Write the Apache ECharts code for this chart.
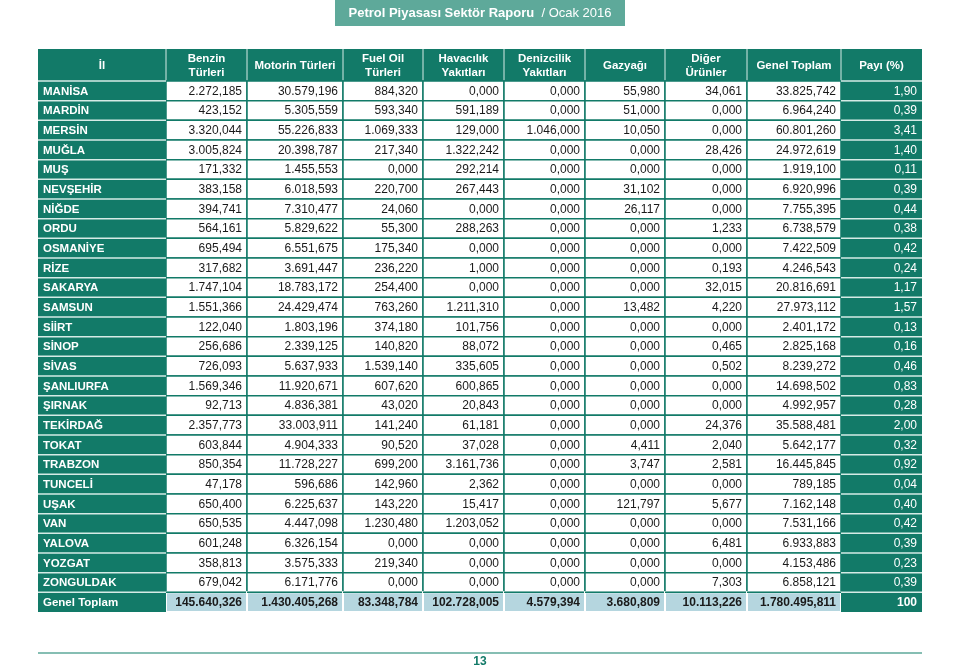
<!DOCTYPE html>
<html>
<head>
<meta charset="utf-8">
<script src="https://cdn.jsdelivr.net/npm/echarts@6/dist/echarts.min.js"></script>
<style>
  html, body { margin: 0; padding: 0; background: #fff; }
  #main { width: 960px; height: 666px; }
</style>
</head>
<body>
<div id="main"></div>
<script>
// tablo verileri (bin litre / ton)
var provinces = ["MANİSA", "MARDİN", "MERSİN", "MUĞLA", "MUŞ", "NEVŞEHİR", "NİĞDE", "ORDU", "OSMANİYE", "RİZE",
  "SAKARYA", "SAMSUN", "SİİRT", "SİNOP", "SİVAS", "ŞANLIURFA", "ŞIRNAK", "TEKİRDAĞ", "TOKAT", "TRABZON",
  "TUNCELİ", "UŞAK", "VAN", "YALOVA", "YOZGAT", "ZONGULDAK"];
var headers = ["İl", "Benzin\nTürleri", "Motorin Türleri", "Fuel Oil\nTürleri", "Havacılık\nYakıtları",
  "Denizcilik\nYakıtları", "Gazyağı", "Diğer\nÜrünler", "Genel Toplam", "Payı (%)"];
var benzin = [2272.185, 423.152, 3320.044, 3005.824, 171.332, 383.158, 394.741, 564.161, 695.494, 317.682,
  1747.104, 1551.366, 122.040, 256.686, 726.093, 1569.346, 92.713, 2357.773, 603.844, 850.354,
  47.178, 650.400, 650.535, 601.248, 358.813, 679.042];
var motorin = [30579.196, 5305.559, 55226.833, 20398.787, 1455.553, 6018.593, 7310.477, 5829.622, 6551.675, 3691.447,
  18783.172, 24429.474, 1803.196, 2339.125, 5637.933, 11920.671, 4836.381, 33003.911, 4904.333, 11728.227,
  596.686, 6225.637, 4447.098, 6326.154, 3575.333, 6171.776];
var fuelOil = [884.320, 593.340, 1069.333, 217.340, 0, 220.700, 24.060, 55.300, 175.340, 236.220,
  254.400, 763.260, 374.180, 140.820, 1539.140, 607.620, 43.020, 141.240, 90.520, 699.200,
  142.960, 143.220, 1230.480, 0, 219.340, 0];
var havacilik = [0, 591.189, 129.000, 1322.242, 292.214, 267.443, 0, 288.263, 0, 1.000,
  0, 1211.310, 101.756, 88.072, 335.605, 600.865, 20.843, 61.181, 37.028, 3161.736,
  2.362, 15.417, 1203.052, 0, 0, 0];
var denizcilik = [0, 0, 1046.000, 0, 0, 0, 0, 0, 0, 0,
  0, 0, 0, 0, 0, 0, 0, 0, 0, 0,
  0, 0, 0, 0, 0, 0];
var gazyagi = [55.980, 51.000, 10.050, 0, 0, 31.102, 26.117, 0, 0, 0,
  0, 13.482, 0, 0, 0, 0, 0, 0, 4.411, 3.747,
  0, 121.797, 0, 0, 0, 0];
var diger = [34.061, 0, 0, 28.426, 0, 0, 0, 1.233, 0, 0.193,
  32.015, 4.220, 0, 0.465, 0.502, 0, 0, 24.376, 2.040, 2.581,
  0, 5.677, 0, 6.481, 0, 7.303];
var genelToplam = [33825.742, 6964.240, 60801.260, 24972.619, 1919.100, 6920.996, 7755.395, 6738.579, 7422.509, 4246.543,
  20816.691, 27973.112, 2401.172, 2825.168, 8239.272, 14698.502, 4992.957, 35588.481, 5642.177, 16445.845,
  789.185, 7162.148, 7531.166, 6933.883, 4153.486, 6858.121];
var payi = [1.90, 0.39, 3.41, 1.40, 0.11, 0.39, 0.44, 0.38, 0.42, 0.24,
  1.17, 1.57, 0.13, 0.16, 0.46, 0.83, 0.28, 2.00, 0.32, 0.92,
  0.04, 0.40, 0.42, 0.39, 0.23, 0.39];
var totalLabel = "Genel Toplam";
var totals = [145640.326, 1430405.268, 83348.784, 102728.005, 4579.394, 3680.809, 10113.226, 1780495.811];
var totalPayi = 100;

// sütun kenarları (piksel genişliği cinsinden)
var colEdges = [0, 128, 209, 305, 385, 466, 547, 627, 709, 803, 884];

var TEAL = "#127a68";
var LIGHT_TEAL = "#5ea99a";
var TOTAL_BG = "#b5d6df";
var FONT = '"Liberation Sans", Arial, Helvetica, sans-serif';

var numCols = [benzin, motorin, fuelOil, havacilik, denizcilik, gazyagi, diger, genelToplam];
var rowNames = provinces.concat([totalLabel]);
var lastRow = rowNames.length - 1;

// türkçe sayı biçimi: 1.234,567
function fmt(v, d) {
  var s = v.toFixed(d).split(".");
  var intPart = s[0].replace(/\B(?=(\d{3})+(?!\d))/g, ".");
  return s.length > 1 ? intPart + "," + s[1] : intPart;
}

function cellText(c, r) {
  if (c === 0) return rowNames[r];
  if (c === 9) return r === lastRow ? String(totalPayi) : fmt(payi[r], 2);
  if (r === lastRow) return fmt(totals[c - 1], 3);
  return fmt(numCols[c - 1][r], 3);
}

var bodyData = [];
for (var r = 0; r < rowNames.length; r++) {
  for (var c = 0; c < headers.length; c++) {
    bodyData.push([c, r]);
  }
}
// önce beyaz hücreler, sonra teal sütunlar çizilsin
bodyData.sort(function (a, b) {
  var ta = (a[0] === 0 || a[0] === 9) ? 1 : 0;
  var tb = (b[0] === 0 || b[0] === 9) ? 1 : 0;
  return ta - tb;
});

var headerData = headers.map(function (h, i) { return [i, 0]; });

function cellBox(api) {
  var c = api.value(0), r = api.value(1);
  var x0 = api.coord([colEdges[c], r])[0];
  var x1 = api.coord([colEdges[c + 1], r])[0];
  var yc = api.coord([0, r])[1];
  var h = api.size([0, 1])[1];
  return { c: c, r: r, x0: x0, x1: x1, y0: yc - h / 2, y1: yc + h / 2, yc: yc, h: h };
}

function renderBody(params, api) {
  var b = cellBox(api);
  var isTotal = b.r === lastRow;
  var text = cellText(b.c, b.r);
  var children = [];
  if (b.c === 0 || b.c === 9) {
    children.push({ type: "rect", shape: { x: b.x0, y: b.y0, width: b.x1 - b.x0, height: b.h }, style: { fill: TEAL } });
    children.push({ type: "line", shape: { x1: b.x0, y1: b.y0, x2: b.x1, y2: b.y0 },
      style: { stroke: "#d5ebe6", lineWidth: 1.5 } });
    children.push({ type: "text", style: {
      text: text, x: b.c === 0 ? b.x0 + 5 : b.x1 - 5, y: b.yc + 0.5,
      align: b.c === 0 ? "left" : "right", verticalAlign: "middle",
      fill: "#fff", fontFamily: FONT, fontSize: b.c === 0 ? 11.5 : 12,
      fontWeight: (b.c === 0 || isTotal) ? "bold" : "normal" } });
  } else {
    children.push({ type: "rect", shape: { x: b.x0, y: b.y0, width: b.x1 - b.x0, height: b.h },
      style: { fill: isTotal ? TOTAL_BG : "#fff", stroke: isTotal ? "#fff" : TEAL, lineWidth: isTotal ? 2 : 1.5 } });
    if (isTotal) {
      children.push({ type: "line", shape: { x1: b.x0, y1: b.y0, x2: b.x1, y2: b.y0 },
        style: { stroke: TEAL, lineWidth: 1.5 } });
    }
    children.push({ type: "text", style: {
      text: text, x: b.x1 - 5, y: b.yc + 0.5, align: "right", verticalAlign: "middle",
      fill: "#1a1a1a", fontFamily: FONT, fontSize: 12, fontWeight: isTotal ? "bold" : "normal" } });
  }
  return { type: "group", children: children };
}

function renderHeader(params, api) {
  var b = cellBox(api);
  var children = [
    { type: "rect", shape: { x: b.x0, y: b.y0, width: b.x1 - b.x0, height: b.h }, style: { fill: TEAL } },
    { type: "text", style: {
      text: headers[b.c], x: (b.x0 + b.x1) / 2, y: b.yc + 0.5, align: "center", verticalAlign: "middle",
      fill: "#fff", fontFamily: FONT, fontSize: 11.5, fontWeight: "bold", lineHeight: 14 } }
  ];
  if (b.c > 0) {
    children.push({ type: "line", shape: { x1: b.x0, y1: b.y0, x2: b.x0, y2: b.y1 },
      style: { stroke: "#d5ebe6", lineWidth: 1 } });
  }
  return { type: "group", children: children };
}

var myChart = echarts.init(document.getElementById("main"), null, { renderer: "canvas" });
myChart.setOption({
  animation: false,
  backgroundColor: "#fff",
  grid: [
    { left: 38, width: 884, top: 49, height: 32 },
    { left: 38, width: 884, top: 81, height: 531 }
  ],
  xAxis: [
    { type: "value", gridIndex: 0, min: 0, max: 884, show: false },
    { type: "value", gridIndex: 1, min: 0, max: 884, show: false }
  ],
  yAxis: [
    { type: "category", gridIndex: 0, data: ["header"], show: false },
    { type: "category", gridIndex: 1, data: rowNames, inverse: true, show: false }
  ],
  graphic: [
    { type: "rect", left: 335, top: 0, shape: { width: 290, height: 26 }, style: { fill: LIGHT_TEAL } },
    { type: "text", left: "center", top: 7, style: {
      text: "{b|Petrol Piyasası Sektör Raporu}{n|  / Ocak 2016}", fill: "#fff",
      rich: { b: { fontFamily: FONT, fontSize: 13, fontWeight: "bold", fill: "#fff" },
              n: { fontFamily: FONT, fontSize: 13, fill: "#fff" } } } },
    { type: "line", shape: { x1: 38, y1: 653, x2: 922, y2: 653 }, style: { stroke: LIGHT_TEAL, lineWidth: 1.5 } },
    { type: "text", left: "center", top: 656, style: {
      text: "13", fill: TEAL, fontFamily: FONT, fontSize: 12, fontWeight: "bold" } }
  ],
  series: [
    { type: "custom", xAxisIndex: 0, yAxisIndex: 0, data: headerData, renderItem: renderHeader, clip: false },
    { type: "custom", xAxisIndex: 1, yAxisIndex: 1, data: bodyData, renderItem: renderBody, clip: false }
  ]
});
</script>
</body>
</html>
